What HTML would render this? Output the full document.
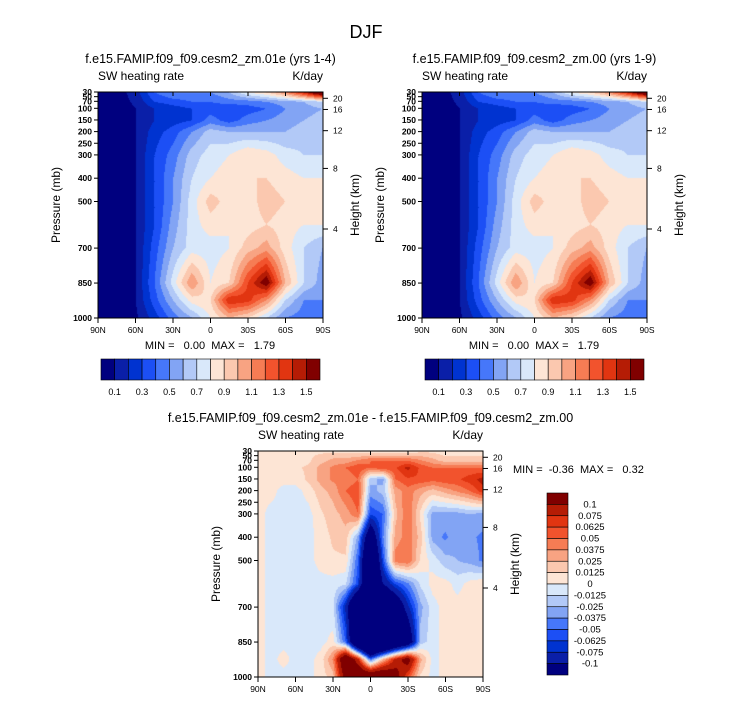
<!DOCTYPE html>
<html><head><meta charset="utf-8">
<style>
body{margin:0;background:#fff;width:733px;height:701px;position:relative;overflow:hidden;font-family:"Liberation Sans",sans-serif}
canvas{position:absolute}
svg{position:absolute;left:0;top:0}
text{white-space:pre}
</style></head>
<body>
<canvas id="c1" width="225" height="226" style="left:98px;top:92px"></canvas>
<canvas id="c2" width="225" height="226" style="left:422px;top:92px"></canvas>
<canvas id="c3" width="225" height="226" style="left:258px;top:451px"></canvas>
<svg id="ov" width="733" height="701"></svg>
<script>
// ---- data ----
const pressures=[30,70,100,150,200,300,400,500,600,700,850,925,1000];
const lats1=[90,75,60,45,30,15,0,-15,-30,-45,-60,-75,-90];
const field1=[
[0.05,0.05,0.15,0.4,0.5,0.5,0.5,0.6,0.8,0.9,1.1,1.4,1.8],
[0.05,0.05,0.12,0.3,0.35,0.4,0.4,0.45,0.45,0.5,0.55,0.6,0.7],
[0.05,0.05,0.1,0.2,0.25,0.3,0.35,0.3,0.35,0.4,0.5,0.55,0.6],
[0.05,0.05,0.1,0.2,0.25,0.3,0.45,0.35,0.45,0.5,0.55,0.6,0.65],
[0.05,0.05,0.1,0.25,0.35,0.5,0.65,0.6,0.6,0.6,0.6,0.65,0.7],
[0.05,0.05,0.1,0.3,0.45,0.65,0.75,0.8,0.9,0.85,0.75,0.7,0.7],
[0.05,0.05,0.1,0.3,0.5,0.7,0.8,0.85,0.9,0.9,0.85,0.8,0.8],
[0.05,0.05,0.1,0.3,0.5,0.75,0.95,0.85,0.85,0.95,0.9,0.85,0.9],
[0.05,0.05,0.1,0.3,0.55,0.75,0.85,0.8,0.85,0.9,0.85,0.8,0.8],
[0.05,0.05,0.1,0.35,0.6,0.75,0.75,0.8,0.95,1.05,0.85,0.7,0.6],
[0.05,0.05,0.1,0.4,0.75,1.1,0.8,0.9,1.3,1.6,1.0,0.7,0.55],
[0.05,0.05,0.1,0.35,0.6,0.85,0.9,1.4,1.35,1.1,0.7,0.5,0.5],
[0.05,0.05,0.08,0.25,0.45,0.6,0.8,1.0,0.9,0.7,0.5,0.45,0.45]];
const field2=field1;
const lats3=[90,80,70,60,50,40,30,20,10,0,-10,-20,-30,-40,-50,-60,-70,-80,-90];
const field3=[
[.005,.005,.005,.005,.01,.01,.01,.01,.005,.005,.005,.005,.005,.01,.01,.005,.005,.005,.005],
[.005,.005,.005,.005,.01,.02,.03,.03,.04,.05,.05,.05,.05,.04,.03,.02,.02,.02,.02],
[.005,.005,.005,.01,.015,.03,.04,.05,.06,.05,.06,.06,.08,.06,.05,.05,.05,.05,.05],
[.005,.005,.005,.005,.015,.03,.04,.04,.05,-.02,-.03,.05,.06,.06,.055,.06,.06,.07,.08],
[.005,.005,-.005,-.005,.005,.02,.03,.05,.06,-.03,-.02,.03,.045,.03,.02,.03,.04,.05,.07],
[.005,-.005,-.005,-.005,-.005,.01,.02,.03,.05,-.06,-.05,.02,.05,.01,-.03,-.03,-.03,-.025,-.03],
[.005,-.005,-.005,-.005,-.005,.005,.015,.02,-.03,-.15,-.04,.03,.045,.02,-.03,-.04,-.03,-.035,-.04],
[.005,-.005,-.005,-.005,-.005,.005,.01,.01,-.05,-.2,-.06,.045,.05,.01,-.005,-.02,-.025,-.03,-.04],
[.005,-.005,-.005,-.005,-.005,-.005,-.005,-.01,-.06,-.2,-.1,-.06,-.04,-.01,.005,.005,-.005,.005,.01],
[.005,-.005,-.005,-.005,-.005,-.005,-.01,-.08,-.2,-.25,-.2,-.15,-.08,-.03,-.005,.005,.005,.01,.01],
[.005,-.005,-.005,-.005,-.005,-.005,.005,-.05,-.2,-.3,-.25,-.2,-.15,-.02,-.005,.005,.01,.01,.01],
[.005,-.005,.005,-.005,-.005,.005,.04,.15,.08,-.05,.02,.08,.12,.03,-.005,.005,.005,.01,.005],
[.005,-.005,-.005,-.005,-.005,.005,.02,.12,.15,.15,.15,.12,.06,.01,-.005,.005,.005,.005,.005]];
const levels1=[0.1,0.2,0.3,0.4,0.5,0.6,0.7,0.8,0.9,1.0,1.1,1.2,1.3,1.4,1.5];
const levels3=[-0.1,-0.075,-0.0625,-0.05,-0.0375,-0.025,-0.0125,0,0.0125,0.025,0.0375,0.05,0.0625,0.075,0.1];
const cbLabels1=["0.1","0.3","0.5","0.7","0.9","1.1","1.3","1.5"];
const cbLabels3=["-0.1","-0.075","-0.0625","-0.05","-0.0375","-0.025","-0.0125","0","0.0125","0.025","0.0375","0.05","0.0625","0.075","0.1"];
const pTicks=[30,50,70,100,150,200,250,300,400,500,700,850,1000];
const hTicks=[20,16,12,8,4];
const hTickP=[57,105,196,358,618];
const latTicks=["90N","60N","30N","0","30S","60S","90S"];
const colors=["#00007f","#0a1fa8","#0033d0","#1c4ff5","#4677fa","#82a4f4","#b2c9f7","#d9e8fa","#fde5d5","#fbc8af","#f8a382","#f67c54","#f2532d","#e13511","#b51c05","#800000"];

// ---- rendering ----
const W=225,H=226;
const py=p=>(p-30)/970*H;
function sample(f,lats,lat,p){
  let i=0;while(i<pressures.length-2&&pressures[i+1]<p)i++;
  let tp=(p-pressures[i])/(pressures[i+1]-pressures[i]);tp=Math.max(0,Math.min(1,tp));
  let j=0;while(j<lats.length-2&&lats[j+1]>lat)j++;
  let tl=(lats[j]-lat)/(lats[j]-lats[j+1]);tl=Math.max(0,Math.min(1,tl));
  const a=f[i][j],b=f[i][j+1],c=f[i+1][j],d=f[i+1][j+1];
  return (a*(1-tl)+b*tl)*(1-tp)+(c*(1-tl)+d*tl)*tp;
}
function hex(h){return[parseInt(h.substr(1,2),16),parseInt(h.substr(3,2),16),parseInt(h.substr(5,2),16)];}
const rgb=colors.map(hex);
function drawField(id,f,lats,levels){
  const cv=document.getElementById(id),ctx=cv.getContext('2d');
  const img=ctx.createImageData(W,H);
  for(let y=0;y<H;y++)for(let x=0;x<W;x++){
    const lat=90-x/(W-1)*180,p=30+y/(H-1)*970;
    const v=sample(f,lats,lat,p);
    let k=0;while(k<levels.length&&v>=levels[k])k++;
    const c=rgb[k],o=(y*W+x)*4;
    img.data[o]=c[0];img.data[o+1]=c[1];img.data[o+2]=c[2];img.data[o+3]=255;
  }
  ctx.putImageData(img,0,0);
}
drawField('c1',field1,lats1,levels1);
drawField('c2',field2,lats1,levels1);
drawField('c3',field3,lats3,levels3);

const NS="http://www.w3.org/2000/svg",ov=document.getElementById('ov');
function el(tag,attrs,text){const e=document.createElementNS(NS,tag);for(const k in attrs)e.setAttribute(k,attrs[k]);if(text!==undefined)e.textContent=text;ov.appendChild(e);return e;}
function txt(x,y,s,size,anchor,name,extra){
  const e=el('text',Object.assign({x:x,y:y,'font-size':size,'text-anchor':anchor||'start',fill:'#000'},extra||{}),s);
  
  
  return e;
}
function axes(x0,y0,title,idx){
  el('rect',{x:x0,y:y0,width:W,height:H,fill:'none',stroke:'#000','stroke-width':1});
  txt(x0+W/2,y0-29,title,12.5,'middle','plot-title-'+idx);
  txt(x0,y0-12,'SW heating rate',12,'start','left-string-'+idx);
  txt(x0+W,y0-12,'K/day',12,'end','units-'+idx);
  pTicks.forEach(p=>{const y=y0+py(p);
    el('line',{x1:x0-4,y1:y,x2:x0,y2:y,stroke:'#000'});
    txt(x0-6,y+3,String(p),8.5,'end','pressure-tick-'+p,{'font-weight':'bold'});});
  hTicks.forEach((h,i)=>{const y=y0+py(hTickP[i]);
    el('line',{x1:x0+W,y1:y,x2:x0+W+5,y2:y,stroke:'#000'});
    txt(x0+W+10,y+3,String(h),8.5,'start','height-tick-'+h);});
  latTicks.forEach((l,i)=>{const x=x0+i*W/6;
    el('line',{x1:x,y1:y0+H,x2:x,y2:y0+H+5,stroke:'#000'});
    el('line',{x1:x,y1:y0,x2:x,y2:y0+4,stroke:'#000'});
    txt(x,y0+H+15,l,8.5,'middle','lat-tick-'+l);});
  txt(0,0,'Pressure (mb)',12,'middle','y-axis-title-'+idx,{transform:`translate(${x0-38},${y0+H/2}) rotate(-90)`});
  txt(0,0,'Height (km)',12,'middle','y2-axis-title-'+idx,{transform:`translate(${x0+W+36},${y0+H/2}) rotate(-90)`});
}
txt(366,38,'DJF',18,'middle','figure-title');
axes(98,92,'f.e15.FAMIP.f09_f09.cesm2_zm.01e (yrs 1-4)',1);
axes(422,92,'f.e15.FAMIP.f09_f09.cesm2_zm.00 (yrs 1-9)',2);
axes(258,451,'f.e15.FAMIP.f09_f09.cesm2_zm.01e - f.e15.FAMIP.f09_f09.cesm2_zm.00',3);
txt(210,349,'MIN =   0.00  MAX =   1.79',11,'middle','minmax-1');
txt(534,349,'MIN =   0.00  MAX =   1.79',11,'middle','minmax-2');
txt(513,473,'MIN =  -0.36  MAX =   0.32',11,'start','minmax-3');
[[101,'1'],[425,'2']].forEach(([cx,n])=>{
  const w=219/16;
  colors.forEach((c,i)=>{const r=el('rect',{x:cx+i*w,y:359,width:w,height:21,fill:c,stroke:'#000','stroke-width':0.6});
    });
  cbLabels1.forEach((l,i)=>txt(cx+(1+2*i)*w,395,l,9,'middle','colorbar-label-'+n));
});
{const h=182/16;
 colors.slice().reverse().forEach((c,i)=>{const r=el('rect',{x:547,y:493+i*h,width:21,height:h,fill:c,stroke:'#000','stroke-width':0.6});
   });
 cbLabels3.slice().reverse().forEach((l,i)=>txt(590,493+(i+1)*h+3,l,9.5,'middle','colorbar-diff-label'));
}
</script>
</body></html>
